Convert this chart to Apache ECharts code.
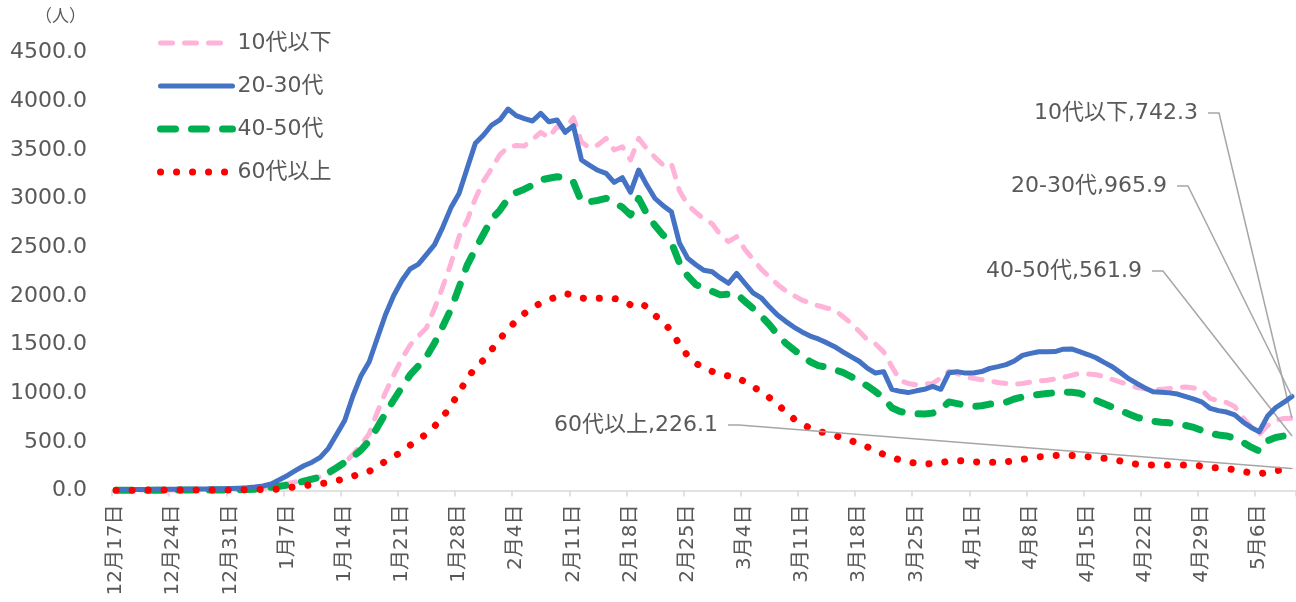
<!DOCTYPE html>
<html>
<head>
<meta charset="utf-8">
<script src="https://cdn.jsdelivr.net/npm/echarts@6.0.0/dist/echarts.min.js"></script>
<style>
html,body{margin:0;padding:0;background:#ffffff;overflow:hidden;}
#chart{width:1296px;height:602px;}
</style>
</head>
<body>
<div id="chart"></div>
<script>
// ---- categories: daily dates 12月17日 .. 5月10日 ----
const startMonth = [12, 17];
const monthDays = { 12: 31, 1: 31, 2: 28, 3: 31, 4: 30, 5: 10 };
const monthOrder = [12, 1, 2, 3, 4, 5];
const categories = [];
monthOrder.forEach(function (m) {
  const from = (m === startMonth[0]) ? startMonth[1] : 1;
  for (let d = from; d <= monthDays[m]; d++) categories.push(m + '月' + d + '日');
});

// ---- y-axis ticks ----
const yMin = 0, yMax = 4500, yStep = 500;
const unitLabel = '（人）';

// ---- series values ----
const seriesNames = ['10代以下', '20-30代', '40-50代', '60代以上'];

const teens = [
  3,3,4,4,4,5,5,5,6,6,7,7,8,9,10,12,15,19,25,35,
  55,72,89,107,124,142,159,222,285,369,
  468,583,808,1009,1186,1353,1493,1586,1670,1872,
  2091,2330,2607,2775,3000,3180,3310,3450,3525,3545,
  3540,3605,3680,3625,3738,3721,3830,3580,3520,3550,
  3618,3498,3532,3396,3618,3510,3423,3344,3362,3080,
  2933,2858,2790,2740,2628,2556,2608,2478,2376,2274,
  2195,2117,2054,2004,1956,1927,1899,1875,1855,1788,
  1720,1635,1550,1506,1424,1274,1133,1099,1086,1093,
  1100,1158,1226,1203,1166,1152,1138,1124,1110,1100,
  1090,1100,1114,1124,1132,1146,1163,1183,1204,1197,
  1190,1171,1142,1114,1086,1058,1044,1036,1039,1047,
  1055,1063,1053,1031,946,921,904,862,751,653,
  575,666,720,740,742.3
];

const twenties = [
  8,9,10,10,11,12,12,13,13,14,15,16,17,18,21,24,28,35,46,68,
  111,155,206,254,291,340,433,576,719,971,
  1180,1323,1567,1808,2004,2157,2276,2323,2424,2526,
  2704,2904,3051,3310,3567,3652,3755,3807,3919,3851,
  3820,3796,3875,3789,3807,3680,3748,3396,3340,3290,
  3259,3166,3214,3064,3293,3138,3000,2926,2864,2540,
  2386,2320,2262,2248,2184,2129,2231,2129,2031,1980,
  1887,1802,1738,1679,1629,1587,1557,1519,1477,1425,
  1376,1328,1258,1207,1221,1040,1019,1006,1024,1040,
  1070,1040,1210,1221,1206,1207,1222,1255,1273,1293,
  1331,1388,1409,1426,1426,1427,1452,1455,1426,1397,
  1364,1316,1272,1211,1149,1100,1054,1014,1009,1003,
  991,965,939,908,843,821,806,777,704,648,
  604,762,850,905,965.9
];

const forties = [
  2,2,3,3,3,3,4,4,4,5,5,5,6,6,7,8,10,13,22,33,
  44,55,74,96,117,138,183,234,289,346,
  416,511,649,795,930,1061,1187,1278,1375,1515,
  1685,1860,2085,2316,2479,2635,2790,2879,2999,3061,
  3096,3137,3190,3208,3224,3210,3170,2967,2967,2980,
  3002,2960,2910,2831,3002,2841,2722,2623,2550,2336,
  2205,2115,2080,2046,2010,2018,2020,1944,1871,1793,
  1706,1601,1514,1446,1383,1323,1283,1268,1241,1213,
  1171,1126,1074,1016,952,850,812,792,789,786,
  795,834,910,893,876,865,871,888,900,908,
  940,962,977,987,996,1004,1012,1009,999,963,
  927,892,857,822,787,752,730,712,702,695,
  685,668,648,616,591,570,560,537,495,445,
  405,510,545,560,561.9
];

const sixties = [
  3,3,3,3,4,4,4,4,5,5,5,5,6,6,6,7,8,9,10,11,
  15,27,38,50,60,69,81,100,122,148,
  172,197,245,301,348,400,464,522,580,660,
  754,871,1008,1148,1265,1339,1447,1555,1655,1745,
  1818,1876,1927,1960,1992,2022,2010,1978,1969,1974,
  1981,1973,1954,1907,1931,1887,1798,1734,1636,1500,
  1384,1307,1260,1223,1191,1178,1165,1116,1067,1014,
  954,889,804,737,681,641,608,589,567,540,
  512,485,448,406,371,338,314,293,281,273,
  277,285,303,309,301,295,292,290,290,295,
  307,320,335,346,355,360,364,361,355,348,
  339,331,322,303,281,271,263,262,262,262,
  262,262,262,249,238,232,226,212,197,180,
  170,188,202,215,226.1
];

// ---- styling / layout (not data) ----
const FONT = "'DejaVu Sans', 'Noto Sans CJK JP', sans-serif";
const TEXT = '#595959';
const styles = {
  '10代以下': { color: '#ffb3d9', width: 5, type: [12, 12], z: 2 },
  '20-30代':  { color: '#4472c4', width: 5, type: 'solid', z: 4 },
  '40-50代':  { color: '#00b050', width: 7, type: [15, 16], z: 3 },
  '60代以上': { color: '#ff0000', width: 7, type: [0.1, 15.9], z: 5 }
};
const labelAnchor = {
  '10代以下': [1208, 113],
  '20-30代':  [1177, 186],
  '40-50代':  [1152, 271],
  '60代以上': [728, 425]
};
const dayWidth = 8.226;

function makeSeries(name, values) {
  const st = styles[name];
  const last = values.length - 1;
  return {
    name: name,
    type: 'line',
    symbol: 'none',
    showSymbol: true,
    showAllSymbol: true,
    z: st.z,
    data: values.map(function (v, i) {
      if (i !== last) return v;
      return {
        value: v,
        symbol: 'circle',
        symbolSize: 1,
        label: { show: true },
        labelLine: { show: true }
      };
    }),
    lineStyle: { color: st.color, width: st.width, type: st.type, cap: 'round', join: 'round' },
    itemStyle: { color: st.color },
    label: {
      show: false,
      formatter: function (p) { return p.seriesName + ',' + Number(p.value).toFixed(1); },
      color: TEXT,
      fontSize: 22,
      fontFamily: FONT,
      padding: [0, 10, 0, 0],
      backgroundColor: 'transparent'
    },
    labelLine: { show: false, length2: 11, lineStyle: { color: '#a6a6a6', width: 1.5 } },
    labelLayout: function () {
      const a = labelAnchor[name];
      return { x: a[0], y: a[1], align: 'right', verticalAlign: 'middle' };
    },
    emphasis: { disabled: true }
  };
}

const chart = echarts.init(document.getElementById('chart'), null, { renderer: 'canvas' });
chart.setOption({
  animation: false,
  backgroundColor: '#ffffff',
  textStyle: { fontFamily: FONT },
  title: {
    text: unitLabel,
    left: 30, top: 4,
    textStyle: { fontSize: 17, fontWeight: 'normal', color: TEXT, fontFamily: FONT }
  },
  legend: {
    orient: 'vertical',
    left: 157, top: 28.5, padding: 0,
    itemWidth: 72, itemHeight: 14, itemGap: 14,
    itemStyle: { color: 'rgba(0,0,0,0)', borderWidth: 0 },
    lineStyle: { width: 'inherit', type: 'inherit', cap: 'inherit' },
    textStyle: { fontSize: 22, color: TEXT, fontFamily: FONT, lineHeight: 29 },
    data: seriesNames
  },
  grid: { left: 112, width: categories.length * dayWidth, top: 52.5, bottom: 111.5, containLabel: false },
  xAxis: {
    type: 'category',
    boundaryGap: true,
    data: categories,
    axisLine: { lineStyle: { color: '#d9d9d9', width: 1.5 } },
    axisTick: { show: true, interval: 6, length: 6, lineStyle: { color: '#d9d9d9', width: 1.5 } },
    axisLabel: { interval: 6, rotate: 90, margin: 14, color: TEXT, fontSize: 20, fontFamily: FONT, hideOverlap: false, padding: [8, 0, 0, 0] },
    splitLine: { show: false }
  },
  yAxis: {
    type: 'value',
    min: yMin, max: yMax, interval: yStep,
    axisLine: { show: false },
    axisTick: { show: false },
    splitLine: { show: false },
    axisLabel: {
      margin: 25, color: TEXT, fontSize: 22, fontFamily: FONT,
      formatter: function (v) { return v.toFixed(1); }
    }
  },
  series: [
    makeSeries('10代以下', teens),
    makeSeries('20-30代', twenties),
    makeSeries('40-50代', forties),
    makeSeries('60代以上', sixties)
  ]
});
</script>
</body>
</html>
